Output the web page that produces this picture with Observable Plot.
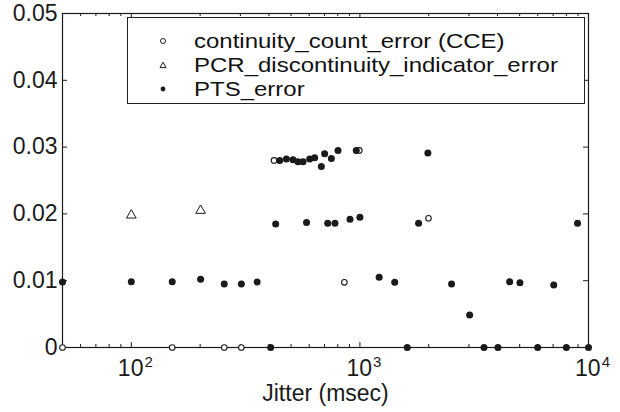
<!DOCTYPE html>
<html><head><meta charset="utf-8">
<script src="https://cdn.jsdelivr.net/npm/d3@7"></script>
<script src="https://cdn.jsdelivr.net/npm/@observablehq/plot@0.6"></script>
<style>
body{margin:0;background:#fff;}
#wrap{position:relative;width:620px;height:412px;font-family:"Liberation Sans",Arial,sans-serif;}
#legend{position:absolute;left:127px;top:17px;width:458px;height:87px;border:1.3px solid #222;background:#fff;box-sizing:border-box;}
.row{position:absolute;left:0;height:24px;display:flex;align-items:center;font-size:20.5px;line-height:22px;color:#111;white-space:nowrap}
.row svg{margin-left:30px;margin-right:26px}
.row span{display:inline-block;transform:scaleX(1.17);transform-origin:0 50%}
</style></head><body><div id="wrap"></div>
<script>
// continuity_count_error (CCE) — open circles
const cceX = [50, 151, 255, 303, 421, 855, 994, 1995];
const cceY = [0, 0, 0, 0, 0.0280, 0.00975, 0.0295, 0.01935];
// PCR_discontinuity_indicator_error — open triangles
const pcrX = [100, 201];
const pcrY = [0.0198, 0.0205];
// PTS_error — filled dots
const ptsX = [50, 100, 151, 201, 255, 303, 355, 1214, 1420, 2518, 3020, 4520, 5013, 7046,
  407, 1611, 3490, 4017, 5995, 8000, 10000,
  428, 584, 723, 778, 905, 1000, 1806, 8955,
  446, 477, 510, 536, 564, 603, 634, 678, 701, 750, 802, 964, 1983];
const ptsY = [0.0098, 0.00985, 0.00985, 0.0102, 0.0095, 0.0095, 0.0098, 0.0105, 0.00975, 0.0095, 0.00485, 0.00985, 0.0097, 0.00935,
  0, 0, 0, 0, 0, 0, 0,
  0.0185, 0.0187, 0.0186, 0.0186, 0.0192, 0.0195, 0.0186, 0.0186,
  0.0280, 0.0282, 0.0281, 0.0278, 0.0278, 0.0282, 0.0284, 0.0271, 0.0290, 0.0283, 0.0295, 0.0295, 0.0291];
const seriesNames = ["continuity_count_error (CCE)", "PCR_discontinuity_indicator_error", "PTS_error"];
const yTicks = [0, 0.01, 0.02, 0.03, 0.04, 0.05];
const yTickLabels = ["0", "0.01", "0.02", "0.03", "0.04", "0.05"];
const xMajor = [100, 1000, 10000];
const xMajorExp = ["2", "3", "4"];
const xMinor = [60, 70, 80, 90, 200, 300, 400, 500, 600, 700, 800, 900, 2000, 3000, 4000, 5000, 6000, 7000, 8000, 9000];
const xLabel = "Jitter (msec)";

const W = 620, H = 412, mL = 62, mR = 32, mT = 13, mB = 65;
const pw = W - mL - mR, ph = H - mT - mB;
const cce = cceX.map((x, i) => ({x, y: cceY[i]}));
const pcr = pcrX.map((x, i) => ({x, y: pcrY[i]}));
const pts = ptsX.map((x, i) => ({x, y: ptsY[i]}));
const ink = "#1a1a1a";

const chart = Plot.plot({
  width: W, height: H, marginLeft: mL, marginRight: mR, marginTop: mT, marginBottom: mB,
  style: {fontFamily: "'Liberation Sans', Arial, sans-serif", fontSize: "23px", background: "white", color: ink},
  x: {type: "log", domain: [50, 10000]},
  y: {domain: [0, 0.05]},
  marks: [
    Plot.axisY({ticks: yTicks, tickSize: 0, tickPadding: 5, tickFormat: d => yTickLabels[yTicks.indexOf(d)], label: null}),
    Plot.axisX({ticks: xMajor, tickSize: 0, tickPadding: 12, tickFormat: d => "10^" + xMajorExp[xMajor.indexOf(d)], label: null}),
    Plot.text([xLabel], {text: d => d, frameAnchor: "bottom", dy: 46, lineAnchor: "middle", fontSize: 23, fill: ink}),
    Plot.tickY(yTicks, {y: d => d, insetRight: pw - 5, stroke: ink}),
    Plot.tickY(yTicks, {y: d => d, insetLeft: pw - 5, stroke: ink}),
    Plot.tickX(xMajor, {x: d => d, insetTop: ph - 5, stroke: ink}),
    Plot.tickX(xMajor, {x: d => d, insetBottom: ph - 5, stroke: ink}),
    Plot.tickX(xMinor, {x: d => d, insetTop: ph - 3, stroke: ink}),
    Plot.tickX(xMinor, {x: d => d, insetBottom: ph - 3, stroke: ink}),
    Plot.frame({stroke: ink, strokeWidth: 1.2}),
    Plot.dot(cce, {x: "x", y: "y", r: 2.8, stroke: ink, strokeWidth: 1.1, fill: "white"}),
    Plot.dot(pcr, {x: "x", y: "y", r: 3.6, symbol: "triangle", stroke: ink, strokeWidth: 1, fill: "white"}),
    Plot.dot(pts, {x: "x", y: "y", r: 3.5, fill: ink, stroke: "none"})
  ]
});
// turn "10^n" tick labels into 10 with a raised exponent
chart.querySelectorAll('[aria-label="x-axis tick label"] text').forEach(t => {
  const [base, exp] = t.textContent.split("^");
  if (exp === undefined) return;
  t.textContent = "";
  const ns = "http://www.w3.org/2000/svg";
  const b = document.createElementNS(ns, "tspan");
  b.textContent = base;
  const e = document.createElementNS(ns, "tspan");
  e.textContent = exp;
  e.setAttribute("font-size", "15");
  e.setAttribute("dy", "-9");
  e.setAttribute("dx", "1");
  t.appendChild(b); t.appendChild(e);
  t.setAttribute("transform", (t.getAttribute("transform") || "") + " translate(4,0)");
});
const wrap = document.getElementById("wrap");
wrap.appendChild(chart);

// legend
const legend = document.createElement("div");
legend.id = "legend";
const glyphs = [
  '<circle cx="5" cy="5" r="2.5" fill="white" stroke="#1a1a1a" stroke-width="1"/>',
  '<path d="M5,2.2 L8,7.6 L2,7.6 Z" fill="white" stroke="#1a1a1a" stroke-width="1"/>',
  '<circle cx="5" cy="5" r="2.4" fill="#1a1a1a"/>'
];
const rowTops = [11, 35, 59];
seriesNames.forEach((name, i) => {
  const row = document.createElement("div");
  row.className = "row";
  row.style.top = rowTops[i] + "px";
  row.innerHTML = `<svg width="10" height="10">${glyphs[i]}</svg><span>${name}</span>`;
  legend.appendChild(row);
});
wrap.appendChild(legend);
</script>
</body></html>
